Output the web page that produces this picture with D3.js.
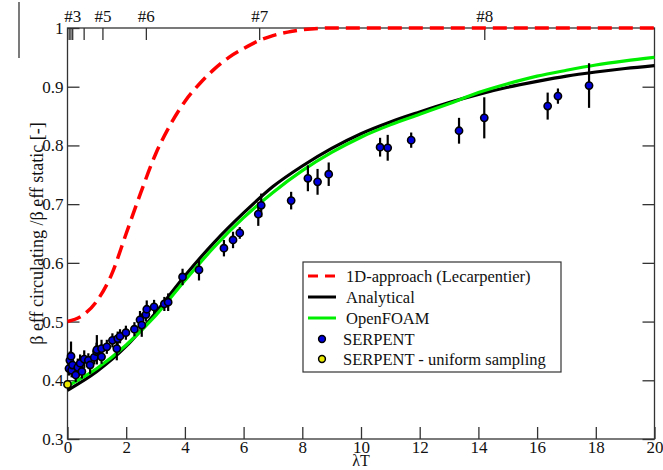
<!DOCTYPE html>
<html>
<head>
<meta charset="utf-8">
<script src="https://cdn.jsdelivr.net/npm/d3@7"></script>
<style>
  body { margin: 0; background: #fff; }
  svg { display: block; font-family: "Liberation Serif", "Times New Roman", serif; }
  .axis path, .axis line { stroke: #333; stroke-width: 1.3; }
  .axis text { font-size: 17px; fill: #111; font-family: "Liberation Serif", serif; }
</style>
</head>
<body>
<svg width="663" height="470"></svg>
<script>
// chart data
var xTicks = [0, 2, 4, 6, 8, 10, 12, 14, 16, 18, 20];
var yTicks = [0.3, 0.4, 0.5, 0.6, 0.7, 0.8, 0.9, 1];
var yTickLabels = ["0.3", "0.4", "0.5", "0.6", "0.7", "0.8", "0.9", "1"];

// top axis: positions of experiments #1..#8
var topTicks = [0.04, 0.1, 0.16, 0.55, 1.19, 2.67, 6.53, 14.2];
var topLabels = ["", "", "#3", "", "#5", "#6", "#7", "#8"];

// 1D-approach (Lecarpentier)
var lecX = [0, 0.5, 1, 1.5, 2, 2.5, 3, 3.5, 4, 4.5, 5, 5.5, 6, 6.5, 7, 7.5, 8, 9, 10, 12, 14, 16, 18, 20];
var lecY = [0.5, 0.51, 0.535, 0.58, 0.65, 0.72, 0.785, 0.835, 0.875, 0.905, 0.93, 0.95, 0.965, 0.978, 0.987, 0.993, 0.997, 1, 1, 1, 1, 1, 1, 1];

// Analytical
var anaX = [0, 1, 2, 3, 4, 5, 6, 7, 8, 9, 10, 11, 12, 13, 14, 15, 16, 17, 18, 19, 20];
var anaY = [0.383, 0.415, 0.458, 0.515, 0.578, 0.635, 0.685, 0.73, 0.765, 0.795, 0.82, 0.84, 0.857, 0.873, 0.887, 0.899, 0.909, 0.918, 0.925, 0.931, 0.936];

// OpenFOAM
var ofX = [0, 1, 2, 3, 4, 5, 6, 7, 8, 9, 10, 11, 12, 13, 14, 15, 16, 17, 18, 19, 20];
var ofY = [0.39, 0.42, 0.46, 0.51, 0.57, 0.627, 0.677, 0.72, 0.757, 0.788, 0.814, 0.835, 0.853, 0.871, 0.89, 0.905, 0.918, 0.928, 0.937, 0.944, 0.95];

// SERPENT points: lambdaT, value, error
var serpX = [0.05, 0.08, 0.12, 0.14, 0.17, 0.28, 0.35, 0.43, 0.49, 0.57, 0.71, 0.77, 0.91, 0.99, 1.0, 1.16, 1.16, 1.34, 1.53, 1.68, 1.71, 1.79, 1.99, 2.28, 2.47, 2.53, 2.67, 2.7, 2.95, 3.3, 3.43,
             3.92, 4.48, 5.33, 5.64, 5.87, 6.5, 6.6, 7.62, 8.19, 8.52, 8.9, 10.65, 10.91, 11.71, 13.34, 14.2, 16.36, 16.71, 17.77];
var serpY = [0.42, 0.434, 0.441, 0.417, 0.426, 0.409, 0.422, 0.429, 0.415, 0.436, 0.434, 0.426, 0.439, 0.449, 0.452, 0.454, 0.44, 0.457, 0.468, 0.454, 0.471, 0.475, 0.481, 0.487, 0.503, 0.494, 0.512, 0.521, 0.525, 0.53, 0.533,
             0.576, 0.588, 0.625, 0.639, 0.651, 0.683, 0.698, 0.706, 0.744, 0.738, 0.751, 0.797, 0.796, 0.809, 0.825, 0.847, 0.867, 0.884, 0.902];
var serpErr = [0.012, 0.015, 0.025, 0.012, 0.015, 0.012, 0.015, 0.015, 0.012, 0.015, 0.012, 0.015, 0.012, 0.015, 0.025, 0.015, 0.012, 0.012, 0.012, 0.02, 0.012, 0.012, 0.012, 0.012, 0.015, 0.02, 0.012, 0.015, 0.012, 0.012, 0.015,
               0.014, 0.018, 0.014, 0.014, 0.01, 0.02, 0.02, 0.015, 0.022, 0.022, 0.02, 0.016, 0.022, 0.013, 0.022, 0.035, 0.023, 0.013, 0.038];

// SERPENT - uniform sampling
var uniX = [0.0];
var uniY = [0.393];

var legendLabels = ["1D-approach (Lecarpentier)", "Analytical", "OpenFOAM", "SERPENT", "SERPENT - uniform sampling"];

var svg = d3.select("svg");
var pLeft = 67.5, pRight = 654.5, pTop = 28, pBottom = 439;

var x = d3.scaleLinear().domain([0, 20]).range([pLeft, pRight]);
var y = d3.scaleLinear().domain([0.3, 1]).range([pBottom, pTop]);

// frame + axes
svg.append("g").attr("class", "axis")
    .attr("transform", "translate(0," + pBottom + ")")
    .call(d3.axisBottom(x).tickValues(xTicks).tickFormat(d3.format("d")).tickSizeInner(-12).tickSizeOuter(0).tickPadding(2));
svg.append("g").attr("class", "axis")
    .attr("transform", "translate(" + pLeft + ",0)")
    .call(d3.axisLeft(y).tickValues(yTicks).tickFormat((d, i) => yTickLabels[i]).tickSizeInner(-12).tickSizeOuter(0).tickPadding(4));
svg.append("g").attr("class", "axis")
    .attr("transform", "translate(" + pRight + ",0)")
    .call(d3.axisRight(y).tickValues(yTicks).tickFormat("").tickSizeInner(-12).tickSizeOuter(0));
svg.append("g").attr("class", "axis")
    .attr("transform", "translate(0," + pTop + ")")
    .call(d3.axisTop(x).tickValues(topTicks).tickFormat((d, i) => topLabels[i]).tickSizeInner(-12).tickSizeOuter(0).tickPadding(6));

svg.selectAll(".axis .domain").remove();
svg.append("rect")
    .attr("x", pLeft).attr("y", pTop)
    .attr("width", pRight - pLeft).attr("height", pBottom - pTop)
    .attr("fill", "none").attr("stroke", "#333").attr("stroke-width", 1.3);

// curves
var line = d3.line().x(d => x(d[0])).y(d => y(d[1])).curve(d3.curveMonotoneX);

svg.append("path")
    .datum(anaX.map((v, i) => [v, anaY[i]]))
    .attr("d", line).attr("fill", "none").attr("stroke", "#000").attr("stroke-width", 3.2);
svg.append("path")
    .datum(ofX.map((v, i) => [v, ofY[i]]))
    .attr("d", line).attr("fill", "none").attr("stroke", "#00ee00").attr("stroke-width", 3.2);
svg.append("path")
    .datum(lecX.map((v, i) => [v, lecY[i]]))
    .attr("d", line).attr("fill", "none").attr("stroke", "#ff0000").attr("stroke-width", 3.5)
    .attr("stroke-dasharray", "14,7");

// SERPENT error bars + points
var serp = serpX.map((v, i) => ({x: v, y: serpY[i], e: serpErr[i]}));
svg.append("g").selectAll("line")
    .data(serp).enter().append("line")
    .attr("x1", d => x(d.x)).attr("x2", d => x(d.x))
    .attr("y1", d => y(d.y - d.e)).attr("y2", d => y(d.y + d.e))
    .attr("stroke", "#000").attr("stroke-width", 2.2);
svg.append("g").selectAll("circle")
    .data(serp).enter().append("circle")
    .attr("cx", d => x(d.x)).attr("cy", d => y(d.y))
    .attr("r", 3.6)
    .attr("fill", "#0000dd").attr("stroke", "#000").attr("stroke-width", 1.6);

svg.append("g").selectAll("circle")
    .data(uniX.map((v, i) => [v, uniY[i]])).enter().append("circle")
    .attr("cx", d => x(d[0])).attr("cy", d => y(d[1]))
    .attr("r", 3.6)
    .attr("fill", "#e8e800").attr("stroke", "#000").attr("stroke-width", 1.6);

// legend
var lg = svg.append("g");
lg.append("rect")
    .attr("x", 303).attr("y", 262).attr("width", 258).attr("height", 110)
    .attr("fill", "#fff").attr("stroke", "#333").attr("stroke-width", 1.2);
var rowY = [276, 297, 318, 339, 359];
var lineStyles = [["#ff0000", "10,7"], ["#000", null], ["#00ee00", null]];
lineStyles.forEach(function(s, i) {
    lg.append("line")
        .attr("x1", 308).attr("x2", 336).attr("y1", rowY[i]).attr("y2", rowY[i])
        .attr("stroke", s[0]).attr("stroke-width", 3)
        .attr("stroke-dasharray", s[1]);
});
lg.append("circle").attr("cx", 322).attr("cy", rowY[3]).attr("r", 3.4)
    .attr("fill", "#0000dd").attr("stroke", "#000").attr("stroke-width", 1.5);
lg.append("circle").attr("cx", 322).attr("cy", rowY[4]).attr("r", 3.4)
    .attr("fill", "#e8e800").attr("stroke", "#000").attr("stroke-width", 1.5);
lg.selectAll("text.leg")
    .data(legendLabels).enter().append("text")
    .attr("class", "leg")
    .attr("x", (d, i) => i < 3 ? 346 : 343)
    .attr("y", (d, i) => rowY[i])
    .attr("dy", "0.35em")
    .attr("font-size", "16.5px")
    .attr("fill", "#111")
    .text(d => d);

// axis titles
svg.append("text")
    .attr("x", (pLeft + pRight) / 2).attr("y", 466)
    .attr("text-anchor", "middle").attr("font-size", "16px").attr("fill", "#111")
    .text("λT");
svg.append("text")
    .attr("transform", "translate(37," + (pTop + pBottom) / 2 + ") rotate(-90)")
    .attr("text-anchor", "middle").attr("dy", "0.35em")
    .attr("font-size", "18px").attr("fill", "#111")
    .text("β eff circulating /β eff static [-]");

// stray vertical rule at top left of the original
svg.append("line")
    .attr("x1", 19).attr("x2", 19).attr("y1", 2).attr("y2", 58)
    .attr("stroke", "#333").attr("stroke-width", 1.3);
</script>
</body>
</html>
